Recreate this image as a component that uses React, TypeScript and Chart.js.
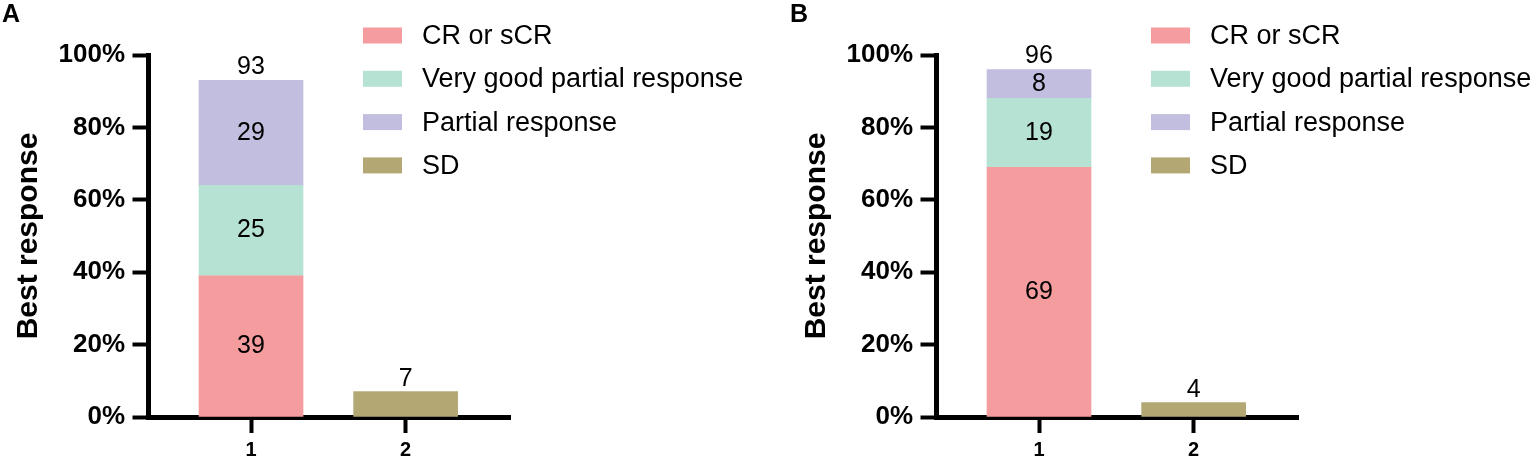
import { useEffect, useRef } from "react";
import { Chart, registerables } from "chart.js";

Chart.register(...registerables);

const FONT = "Arial, 'Liberation Sans', Helvetica, sans-serif";

// categories on the x axis and the legend entries
const categories = ["1", "2"];
const seriesLabels = ["CR or sCR", "Very good partial response", "Partial response", "SD"];
const seriesColors = ["#F59D9E", "#B6E2D4", "#C2BEDF", "#B3A874"];
const yTicks = [0, 20, 40, 60, 80, 100];

// panel A values (%)
const crA = [39, null];
const vgprA = [25, null];
const prA = [29, null];
const sdA = [null, 7];

// panel B values (%)
const crB = [69, null];
const vgprB = [19, null];
const prB = [8, null];
const sdB = [null, 4];

type Vals = (number | null)[];

// numbers on / above the bars
const valueLabels = {
  id: "valueLabels",
  afterDatasetsDraw(chart: any) {
    const ctx = chart.ctx;
    ctx.save();
    ctx.fillStyle = "#000";
    ctx.font = `25px ${FONT}`;
    ctx.textAlign = "center";
    categories.forEach((_, i) => {
      const parts: { el: any; v: number }[] = [];
      chart.data.datasets.forEach((ds: any, k: number) => {
        const v = ds.data[i]?.y;
        if (v == null || v <= 0) return;
        parts.push({ el: chart.getDatasetMeta(k).data[i], v });
      });
      if (!parts.length) return;
      const top = Math.min(...parts.map((p) => p.el.y));
      const total = parts.reduce((s, p) => s + p.v, 0);
      if (parts.length > 1) {
        ctx.textBaseline = "middle";
        parts.forEach((p) => {
          ctx.fillText(String(p.v), p.el.x, (p.el.y + p.el.base) / 2);
        });
      }
      ctx.textBaseline = "alphabetic";
      ctx.fillText(String(total), parts[0].el.x, top - 6);
    });
    ctx.restore();
  },
};

// legend drawn over the right part of the panel
const sideLegend = {
  id: "sideLegend",
  afterDraw(chart: any, _args: any, opts: any) {
    const ctx = chart.ctx;
    ctx.save();
    ctx.font = `27px ${FONT}`;
    ctx.textBaseline = "middle";
    ctx.textAlign = "left";
    chart.data.datasets.forEach((ds: any, k: number) => {
      const cy = opts.y + k * opts.gap;
      ctx.fillStyle = ds.backgroundColor;
      ctx.fillRect(opts.x, cy - 8, 39, 16);
      ctx.fillStyle = "#000";
      ctx.fillText(ds.label, opts.textX, cy + 1);
    });
    ctx.restore();
  },
};

function Panel({ letter, series, width, left }: { letter: string; series: Vals[]; width: number; left: number }) {
  const chartRef = useRef<HTMLCanvasElement | null>(null);

  useEffect(() => {
    if (!chartRef.current) return;
    const ctx = chartRef.current.getContext("2d");
    if (!ctx) return;

    const datasets = series.map((vals, k) => ({
      label: seriesLabels[k],
      data: vals.map((v, i) => ({ x: i + 1, y: v })),
      backgroundColor: seriesColors[k],
      borderWidth: 0,
      barThickness: 104,
    }));

    const myChart = new Chart(ctx, {
      type: "bar",
      data: { datasets } as any,
      options: {
        responsive: false,
        animation: false,
        color: "#000",
        layout: { padding: { left: 2, top: 0, right: width - 510, bottom: 0 } },
        plugins: {
          legend: { display: false },
          tooltip: { enabled: false },
          title: {
            display: true,
            text: letter,
            align: "start",
            color: "#000",
            font: { family: FONT, size: 25, weight: "bold" },
            padding: { top: 0, bottom: 25 },
          },
          sideLegend: { x: 363, y: 35.5, gap: 43.3, textX: 422 },
        } as any,
        scales: {
          x: {
            type: "linear",
            stacked: true,
            offset: false,
            min: 0.337,
            max: 2.675,
            afterBuildTicks: (scale: any) => {
              scale.ticks = categories.map((_, i) => ({ value: i + 1 }));
            },
            afterFit: (scale: any) => {
              scale.height = 41;
            },
            ticks: {
              color: "#000",
              padding: 5,
              font: { family: FONT, size: 20, weight: "bold" },
              callback: (v: any) => categories[Number(v) - 1] ?? "",
            },
            grid: {
              display: true,
              offset: false,
              drawOnChartArea: false,
              drawTicks: true,
              tickLength: 16,
              tickWidth: 4,
              tickColor: "#000",
              color: "#000",
            },
            border: { display: true, color: "#000", width: 5 },
          },
          y: {
            stacked: true,
            min: 0,
            max: 100,
            afterBuildTicks: (scale: any) => {
              scale.ticks = yTicks.map((value) => ({ value }));
            },
            afterFit: (scale: any) => {
              scale.width = 146.5;
            },
            ticks: {
              color: "#000",
              padding: 7.5,
              font: { family: FONT, size: 26, weight: "bold" },
              callback: (v: any) => `${v}%`,
            },
            title: {
              display: true,
              text: "Best response",
              color: "#000",
              font: { family: FONT, size: 30, weight: "bold" },
              padding: { top: 9, bottom: 0 },
            },
            grid: {
              display: true,
              drawOnChartArea: false,
              drawTicks: true,
              tickLength: 16,
              tickWidth: 4,
              tickColor: "#000",
              color: "#000",
            },
            border: { display: true, color: "#000", width: 5 },
          },
        },
      } as any,
      plugins: [valueLabels, sideLegend],
    });

    return () => {
      myChart.destroy();
    };
  }, []);

  return (
    <canvas
      ref={chartRef}
      width={width}
      height={458}
      style={{ position: "absolute", left, top: 0, display: "block" }}
    ></canvas>
  );
}

export default function App() {
  return (
    <div style={{ position: "absolute", left: 0, top: 0, width: 1535, height: 458, background: "#fff", overflow: "hidden" }}>
      <Panel letter="A" series={[crA, vgprA, prA, sdA]} width={788} left={0} />
      <Panel letter="B" series={[crB, vgprB, prB, sdB]} width={747} left={788} />
    </div>
  );
}
